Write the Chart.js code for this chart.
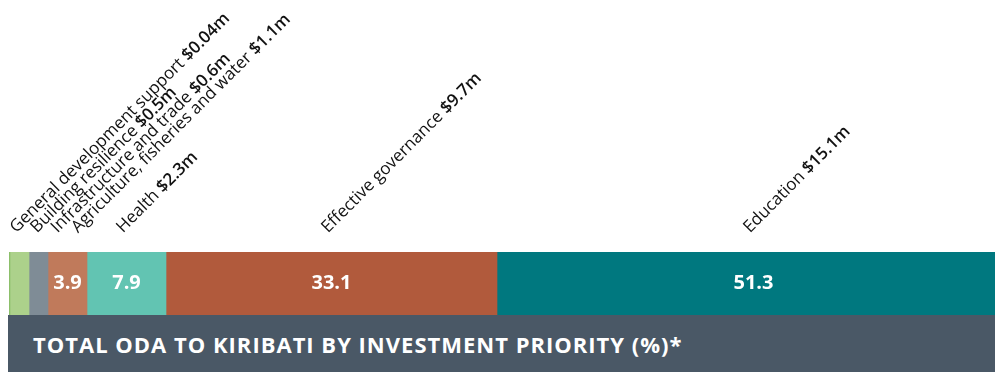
<!doctype html>
<html lang="en">
<head>
  <meta charset="utf-8">
  <title>Total ODA to Kiribati by investment priority</title>
  <style>
    html, body {
      margin: 0;
      padding: 0;
      background: #fff;
      font-family: 'Open Sans', sans-serif;
    }
    .wrap {
      position: relative;
      width: 995px;
      height: 372px;
      overflow: hidden;
    }
    .chart-box {
      position: absolute;
      left: 0;
      top: 0;
      width: 995px;
      height: 315px;
    }
    .band {
      position: absolute;
      left: 8px;
      top: 315px;
      width: 987px;
      height: 57px;
      background: #4a5866;
      color: #fff;
      font-weight: 700;
      font-size: 22px;
      letter-spacing: 1px;
      line-height: 57px;
      padding: 1px 0 0 25px;
      box-sizing: border-box;
      white-space: nowrap;
    }
  </style>
</head>
<body>
  <div class="wrap">
    <div class="chart-box"><canvas id="odaChart"></canvas></div>
    <div class="band">TOTAL ODA TO KIRIBATI BY INVESTMENT PRIORITY (%)*</div>
  </div>

  <script src="https://cdn.jsdelivr.net/npm/chart.js"></script>
  <script>
    const priorities = ['General development support', 'Building resilience', 'Infrastructure and trade',
                        'Agriculture, fisheries and water', 'Health', 'Effective governance', 'Education'];
    const spend  = ['$0.04m', '$0.5m', '$0.6m', '$1.1m', '$2.3m', '$9.7m', '$15.1m'];
    const shares = [0.1, 1.9, 1.9, 3.9, 7.9, 33.1, 51.3];
    const colors = ['#8cbf6a', '#acd18b', '#7f8c96', '#c07a5b', '#62c4b2', '#b15a3c', '#00787f'];

    // the visible strip is cropped on the right: only 98.6 of the 100 points fit
    const visibleMax = 98.6;

    // rotated category labels above the bar + share values inside it
    const segmentLabels = {
      id: 'segmentLabels',
      afterDatasetsDraw(chart) {
        const ctx = chart.ctx;
        let prev = -Infinity;
        chart.data.datasets.forEach((ds, i) => {
          const bar = chart.getDatasetMeta(i).data[0];
          const cx = (bar.x + bar.base) / 2;

          // value inside segment
          if (shares[i] >= 3) {
            ctx.save();
            ctx.fillStyle = '#fff';
            ctx.font = '700 20px "Open Sans"';
            ctx.textAlign = 'center';
            ctx.textBaseline = 'middle';
            ctx.fillText(shares[i].toFixed(1), cx, bar.y);
            ctx.restore();
          }

          // rotated label
          const ax = Math.max(cx - 7, prev + 20.5, 13);
          prev = ax;
          ctx.save();
          ctx.translate(ax, chart.chartArea.top - 22);
          ctx.rotate(-Math.PI / 4);
          ctx.fillStyle = '#111';
          ctx.textBaseline = 'middle';
          ctx.textAlign = 'left';
          ctx.font = '400 17px "Open Sans"';
          const name = priorities[i] + ' ';
          ctx.fillText(name, 0, 0);
          const nw = ctx.measureText(name).width;
          ctx.font = '600 17px "Open Sans"';
          ctx.fillText(spend[i], nw, 0);
          ctx.restore();
        });
      }
    };

    new Chart(document.getElementById('odaChart'), {
      type: 'bar',
      data: {
        labels: ['ODA'],
        datasets: priorities.map((p, i) => ({
          label: p,
          data: [shares[i]],
          backgroundColor: colors[i],
          borderWidth: 0,
          barPercentage: 1,
          categoryPercentage: 1
        }))
      },
      options: {
        indexAxis: 'y',
        responsive: true,
        maintainAspectRatio: false,
        animation: false,
        layout: { padding: { top: 252, left: 9, right: 0, bottom: 0 } },
        plugins: {
          legend: { display: false },
          tooltip: { enabled: false },
          title: { display: false }
        },
        scales: {
          x: { stacked: true, display: false, min: 0, max: visibleMax },
          y: { stacked: true, display: false }
        }
      },
      plugins: [segmentLabels]
    });
  </script>
</body>
</html>
